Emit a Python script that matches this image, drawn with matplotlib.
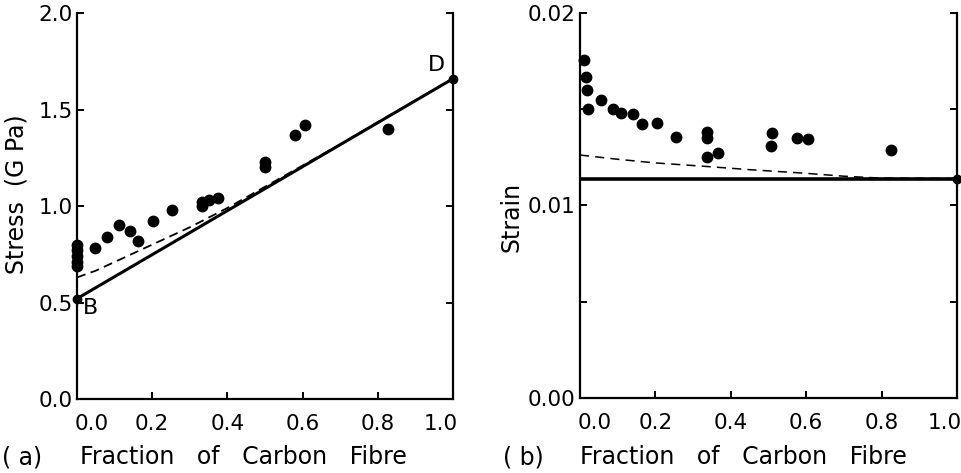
import numpy as np
import matplotlib
matplotlib.use("Agg")
import matplotlib.pyplot as plt
import matplotlib.transforms as mtransforms
from matplotlib.ticker import FixedLocator, FuncFormatter


# ============================================================
# 1. DATA
# ============================================================
#
# Values.
#

# (a) stress against fraction of carbon fibre
stress_x = [0.0, 0.0, 0.0, 0.0, 0.0, 0.048, 0.08, 0.112, 0.141, 0.163,
            0.203, 0.253, 0.333, 0.333, 0.35, 0.375, 0.50, 0.50,
            0.579, 0.606, 0.828]
stress_y = [0.80, 0.77, 0.74, 0.71, 0.69, 0.78, 0.84, 0.90, 0.87, 0.82,
            0.92, 0.98, 1.02, 1.00, 1.03, 1.04, 1.23, 1.20,
            1.37, 1.42, 1.40]

stress_end_x = [0.0, 1.0]
stress_end_y = [0.52, 1.66]

stress_dash_x = [0.0, 0.05, 0.10, 0.20, 0.30, 0.40, 0.50, 0.60, 0.70, 0.80, 1.0]
stress_dash_y = [0.63, 0.665, 0.71, 0.80, 0.89, 0.99, 1.10, 1.21, 1.32, 1.435, 1.66]

# (b) strain against fraction of carbon fibre
strain_x = [0.012, 0.015, 0.018, 0.02, 0.055, 0.087, 0.109, 0.142, 0.164,
            0.204, 0.256, 0.338, 0.338, 0.336, 0.365, 0.509, 0.508,
            0.576, 0.605, 0.824]
strain_y = [0.01756, 0.01667, 0.0160, 0.0150, 0.01548, 0.0150, 0.01481,
            0.01475, 0.01423, 0.01428, 0.01355, 0.01382, 0.0135, 0.01252,
            0.01273, 0.01377, 0.01309, 0.01351, 0.01345, 0.01288]

strain_end_x = [0.0, 1.0]
strain_end_y = [0.01140, 0.01140]

strain_dash_x = [0.0, 0.1, 0.2, 0.34, 0.45, 0.6, 0.7, 0.8, 1.0]
strain_dash_y = [0.01262, 0.0124, 0.01221, 0.01202, 0.01186, 0.01167, 0.01152,
                 0.01142, 0.0114]

x_ticks = [0.0, 0.2, 0.4, 0.6, 0.8, 1.0]
stress_ticks = [0.0, 0.5, 1.0, 1.5, 2.0]
strain_ticks = [0.0, 0.005, 0.01, 0.015, 0.02]


# ============================================================
# 2. FIGURE
# ============================================================

plt.rcParams["font.family"] = "DejaVu Sans"

fig = plt.figure(figsize=(9.61, 4.73), dpi=100)

ax_a = fig.add_axes([0.0801, 0.1564, 0.3913, 0.816])
ax_b = fig.add_axes([0.6035, 0.1586, 0.3923, 0.814])


def estilo_ejes(ax):
    # no top spine, inward ticks on the other three sides
    ax.spines["top"].set_visible(False)
    for lado in ["left", "right", "bottom"]:
        ax.spines[lado].set_linewidth(1.6)
    ax.tick_params(direction="in", length=5, width=1.4,
                   left=True, right=True, bottom=True, top=False,
                   labelsize=15.5, pad=3)
    ax.tick_params(axis="x", pad=11)
    ax.set_xlim(0.0, 1.0)
    ax.xaxis.set_major_locator(FixedLocator(x_ticks))
    ax.xaxis.set_major_formatter(FuncFormatter(lambda v, p: f"{v:.1f}"))
    etiquetas = ax.get_xticklabels()
    # first and last labels sit a little inside the frame
    desp_izq = mtransforms.ScaledTranslation(15 / 100, 0, fig.dpi_scale_trans)
    desp_der = mtransforms.ScaledTranslation(-12 / 100, 0, fig.dpi_scale_trans)
    etiquetas[0].set_transform(etiquetas[0].get_transform() + desp_izq)
    etiquetas[-1].set_transform(etiquetas[-1].get_transform() + desp_der)


# ============================================================
# 3. PANEL (a)
# ============================================================

ax_a.plot(stress_end_x, stress_end_y, color="black", lw=2.2, zorder=3)
ax_a.plot(stress_end_x, stress_end_y, "o", color="black", ms=6,
          clip_on=False, zorder=4)
ax_a.plot(stress_dash_x, stress_dash_y, color="black", lw=1.3,
          linestyle=(0, (5, 3)), zorder=3)
ax_a.plot(stress_x, stress_y, "o", color="black", ms=7.5,
          clip_on=False, zorder=4)

ax_a.set_ylim(0.0, 2.0)
ax_a.yaxis.set_major_locator(FixedLocator(stress_ticks))
ax_a.yaxis.set_major_formatter(FuncFormatter(lambda v, p: f"{v:.1f}"))
estilo_ejes(ax_a)

ax_a.text(0.035, 0.47, "B", fontsize=16, ha="center", va="center")
ax_a.text(0.955, 1.73, "D", fontsize=16, ha="center", va="center")

ax_a.set_ylabel("Stress  (G Pa)", fontsize=17)
ax_a.yaxis.set_label_coords(-0.128, 0.53)

fig.text(0.002, 0.033, "( a)", fontsize=17, ha="left", va="center")
fig.text(0.083, 0.033, "Fraction   of   Carbon   Fibre", fontsize=17,
         ha="left", va="center")


# ============================================================
# 4. PANEL (b)
# ============================================================

ax_b.plot(strain_end_x, strain_end_y, color="black", lw=2.6, zorder=3)
ax_b.plot(strain_end_x[1:], strain_end_y[1:], "o", color="black", ms=6,
          clip_on=False, zorder=4)
ax_b.plot(strain_dash_x, strain_dash_y, color="black", lw=1.1,
          linestyle=(0, (6, 4)), zorder=3)
ax_b.plot(strain_x, strain_y, "o", color="black", ms=7.5,
          clip_on=False, zorder=4)

ax_b.set_ylim(0.0, 0.02)
ax_b.yaxis.set_major_locator(FixedLocator(strain_ticks))
ax_b.yaxis.set_major_formatter(
    FuncFormatter(lambda v, p: f"{v:.2f}" if round(v * 1000) % 10 == 0 else ""))
estilo_ejes(ax_b)

ax_b.set_ylabel("Strain", fontsize=17)
ax_b.yaxis.set_label_coords(-0.151, 0.47)

fig.text(0.523, 0.033, "( b)", fontsize=17, ha="left", va="center")
fig.text(0.604, 0.033, "Fraction   of   Carbon   Fibre", fontsize=17,
         ha="left", va="center")


# ============================================================
# 5. SAVE
# ============================================================

fig.savefig("out.png", dpi=100)
